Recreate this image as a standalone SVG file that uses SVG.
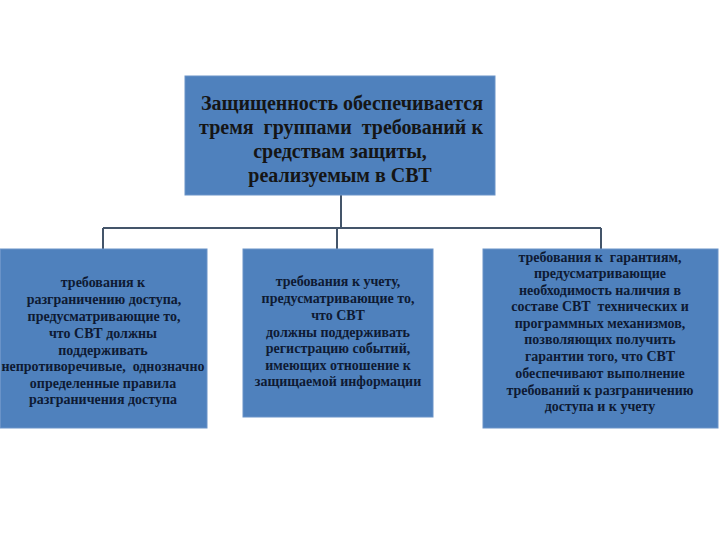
<svg xmlns="http://www.w3.org/2000/svg" width="720" height="540" viewBox="0 0 720 540">
<style>
.box{fill:#4f81bd;stroke:#6a93c8;stroke-width:1}
.t{font-family:"Liberation Serif","Times New Roman",serif;font-weight:bold;text-anchor:middle}
.top{font-size:20px;fill:#151515}
.sm{font-size:14px;fill:#0e1a33}
.c{stroke:#44556a;stroke-width:2;fill:none}
</style>
<rect width="720" height="540" fill="#ffffff"/>
<g id="connectors">
<path class="c" d="M341 195V228M103 228H601M103 228V250M337 228V249M601 228V249"/>
</g>
<g id="top">
<rect class="box" x="185" y="76" width="310" height="119"/>
<text class="t top" xml:space="preserve"><tspan x="342" y="110">Защищенность обеспечивается</tspan><tspan x="341" y="134">тремя  группами  требований к</tspan><tspan x="340" y="158">средствам защиты,</tspan><tspan x="340" y="182">реализуемым в СВТ</tspan></text>
</g>
<g id="left">
<rect class="box" x="0.5" y="249" width="206.5" height="179"/>
<text class="t sm" xml:space="preserve"><tspan x="103" y="287">требования к</tspan><tspan x="104" y="304">разграничению доступа,</tspan><tspan x="104" y="321">предусматривающие то,</tspan><tspan x="103" y="338">что СВТ должны</tspan><tspan x="103" y="355">поддерживать</tspan><tspan x="103" y="371">непротиворечивые,  однозначно</tspan><tspan x="103" y="388">определенные правила</tspan><tspan x="103" y="404">разграничения доступа</tspan></text>
</g>
<g id="middle">
<rect class="box" x="243" y="249" width="190" height="168"/>
<text class="t sm"><tspan x="338" y="286">требования к учету,</tspan><tspan x="338" y="303">предусматривающие то,</tspan><tspan x="338" y="320">что СВТ</tspan><tspan x="338" y="337">должны поддерживать</tspan><tspan x="338" y="353">регистрацию событий,</tspan><tspan x="338" y="370">имеющих отношение к</tspan><tspan x="338" y="386">защищаемой информации</tspan></text>
</g>
<g id="right">
<rect class="box" x="483" y="249" width="235" height="179"/>
<text class="t sm" xml:space="preserve"><tspan x="600" y="262">требования к  гарантиям,</tspan><tspan x="600" y="278">предусматривающие</tspan><tspan x="600" y="295">необходимость наличия в</tspan><tspan x="600" y="311">составе СВТ  технических и</tspan><tspan x="600" y="328">программных механизмов,</tspan><tspan x="600" y="344">позволяющих получить</tspan><tspan x="600" y="361">гарантии того, что СВТ</tspan><tspan x="600" y="378">обеспечивают выполнение</tspan><tspan x="600" y="395">требований к разграничению</tspan><tspan x="600" y="411">доступа и к учету</tspan></text>
</g>
</svg>
